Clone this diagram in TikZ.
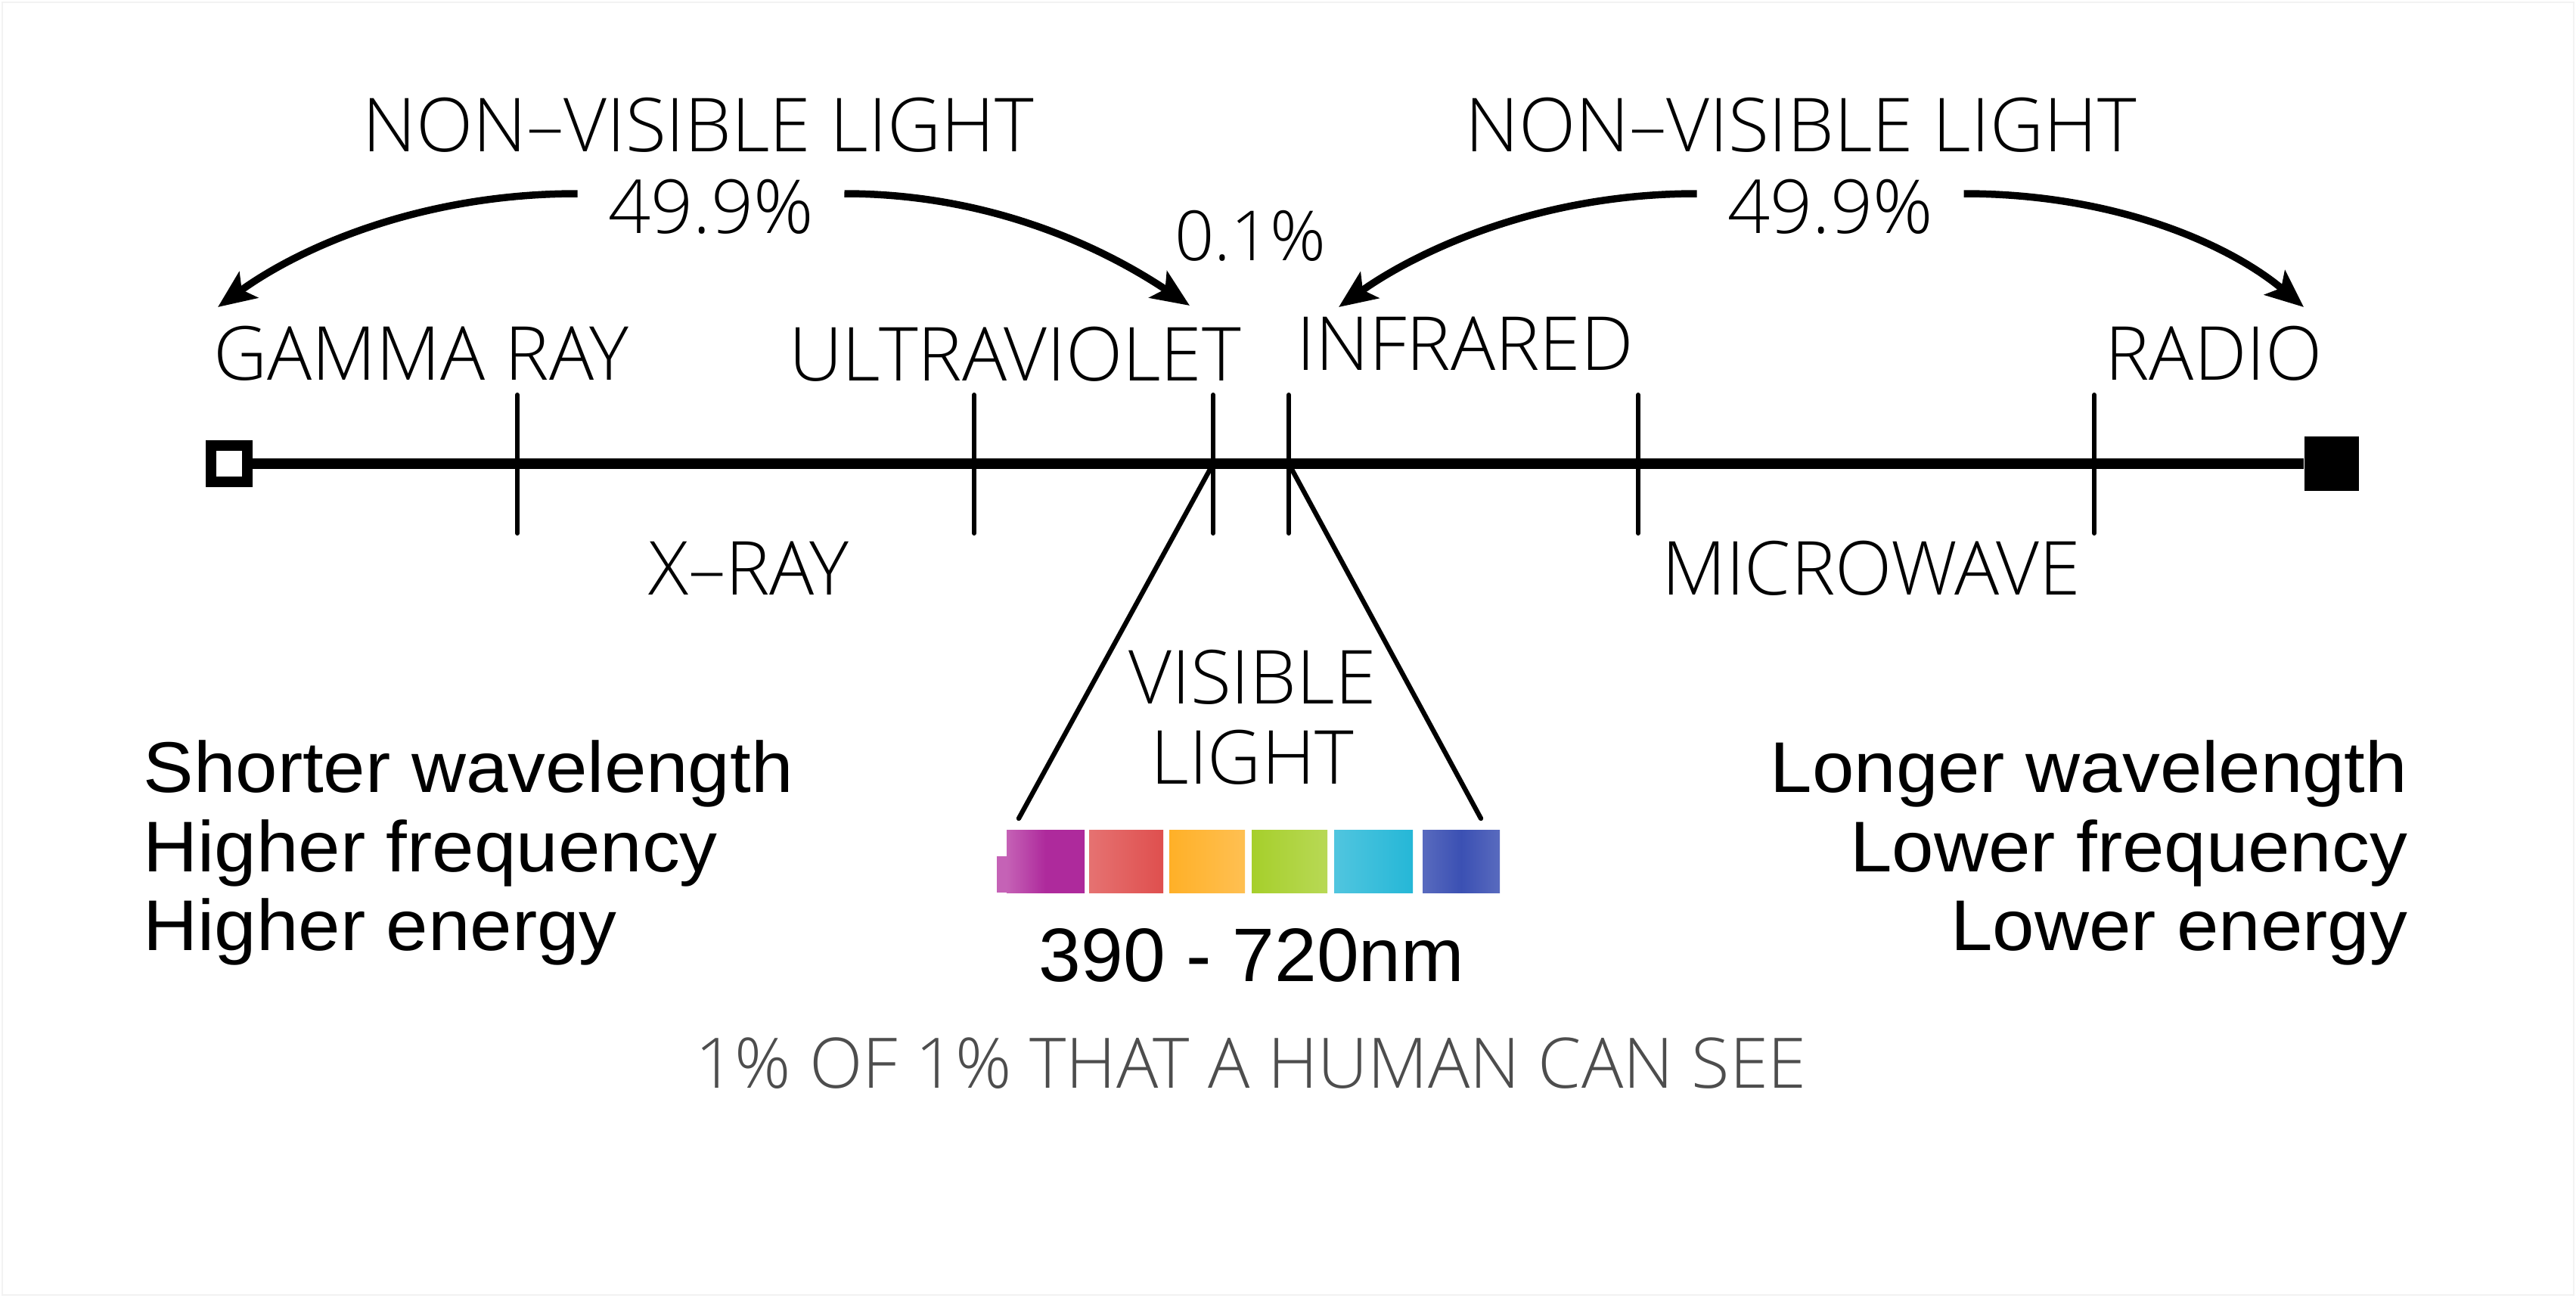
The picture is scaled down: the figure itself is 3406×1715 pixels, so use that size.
\documentclass[tikz,border=0pt]{standalone}
\usepackage{fontspec}
\setmainfont[FakeStretch=1.05]{Liberation Sans}
\newfontfamily\plainfont{Liberation Sans}
\newfontfamily\thinfont{Open Sans Light}
\usetikzlibrary{arrows.meta}
\definecolor{cpurple}{HTML}{AE2A9C}
\definecolor{cpurplel}{HTML}{C562B6}
\definecolor{cred}{HTML}{DF4F4E}
\definecolor{corange}{HTML}{FFB027}
\definecolor{cgreen}{HTML}{A6CF2B}
\definecolor{ccyan}{HTML}{25B7D7}
\definecolor{cblue}{HTML}{3B50B3}
\definecolor{capgray}{HTML}{4D4D4D}
\begin{document}
\begin{tikzpicture}[x=0.01cm,y=-0.01cm,
  thinlbl/.style={font=\thinfont\fontsize{28}{32}\selectfont, inner sep=0pt, anchor=base},
  sidelbl/.style={font=\fontsize{27}{31}\selectfont, inner sep=0pt},
  axisline/.style={line width=4pt},
  tickline/.style={line width=1.7pt, line cap=round},
  coneline/.style={line width=1.8pt, line cap=round},
  arr/.style={line width=2.7pt, -{Stealth[length=0.5cm,width=0.42cm,inset=0.11cm]}}
]
\useasboundingbox (0,0) rectangle (3406,1715);
\fill[white] (0,0) rectangle (3406,1715);
\draw[black!5, line width=0.8pt] (3,3) rectangle (3403,1712);

% end markers
\node[draw, line width=3.98pt, inner sep=0pt, minimum size=0.48cm] (gsq) at (303,613) {};
\node[fill, inner sep=0pt, minimum size=0.72cm] (rsq) at (3083,613) {};
\draw[axisline] (gsq.east) -- (rsq.west);

% ticks
\foreach \x/\n in {684/t1,1288/t2,1604/t3,1704/t4,2166/t5,2769/t6}{
  \coordinate (\n) at (\x,613);
  \draw[tickline] (\x,522) -- (\x,705);
}

% band labels
\node[thinlbl, anchor=base west] (gamma) at (282,502) {GAMMA RAY};
\node[thinlbl] (uv) at (1342,503) {ULTRAVIOLET};
\node[thinlbl] (ir) at (1937,489) {INFRARED};
\node[thinlbl] (radio) at (2927,502) {RADIO};
\node[thinlbl] (xray) at (990,786) {X–RAY};
\node[thinlbl] (micro) at (2474,786) {MICROWAVE};
\node[thinlbl] (vis1) at (1656,930) {VISIBLE};
\node[thinlbl] (vis2) at (1656,1036) {LIGHT};

% top labels
\node[thinlbl] (nvL) at (923,200) {NON–VISIBLE LIGHT};
\node[thinlbl] (nvR) at (2381,200) {NON–VISIBLE LIGHT};
\node[thinlbl, inner xsep=0.4cm] (pctL) at (940,308) {49.9\%};
\node[thinlbl, inner xsep=0.4cm] (pctR) at (2420,308) {49.9\%};
\node[thinlbl, font=\thinfont\fontsize{26}{30}\selectfont] (pctV) at (1653,344) {0.1\%};

% arrow tips
\coordinate (tipG) at (288,406);
\coordinate (tipU) at (1573,404);
\coordinate (tipI) at (1770,406);
\coordinate (tipR) at (3046,406);
\draw[arr] (pctL.west |- 0,256) .. controls (560,256) and (400,325) .. (tipG);
\draw[arr] (pctL.east |- 0,256) .. controls (1320,256) and (1470,335) .. (tipU);
\draw[arr] (pctR.west |- 0,256) .. controls (2030,256) and (1870,335) .. (tipI);
\draw[arr] (pctR.east |- 0,256) .. controls (2800,256) and (2950,325) .. (tipR);

% colour bar
\fill[cpurplel] (1318,1132) rectangle (1340,1180);
\shade[left color=cpurplel, right color=cpurple, middle color=cpurple] (1331,1097) rectangle (1434,1180);
\shade[left color=cred!80!white, right color=cred] (1440,1097) rectangle (1538,1180);
\shade[left color=corange, right color=corange!80!white] (1546,1097) rectangle (1646,1180);
\shade[left color=cgreen, right color=cgreen!80!white] (1655,1097) rectangle (1755,1180);
\shade[left color=ccyan!80!white, right color=ccyan] (1764,1097) rectangle (1868,1180);
\shade[left color=cblue!85!white, right color=cblue!85!white, middle color=cblue] (1881,1097) rectangle (1983,1180);
\coordinate (coneL) at (1347,1082);
\coordinate (coneR) at (1958,1082);
\draw[coneline] (t3) -- (coneL);
\draw[coneline] (t4) -- (coneR);

\node[font=\plainfont\fontsize{28.5}{32}\selectfont, inner sep=0pt, anchor=base] (nm) at (1655,1297) {390 - 720nm};
\node[thinlbl, text=capgray, font=\thinfont\fontsize{26.2}{30}\selectfont] (human) at (1654,1438) {1\% OF 1\% THAT A HUMAN CAN SEE};

% side texts
\node[sidelbl, anchor=base west] (s1) at (189,1047) {Shorter wavelength};
\node[sidelbl, anchor=base west] (s2) at (189,1152) {Higher frequency};
\node[sidelbl, anchor=base west] (s3) at (189,1256) {Higher energy};
\node[sidelbl, anchor=base east] (l1) at (3184,1047) {Longer wavelength};
\node[sidelbl, anchor=base east] (l2) at (3184,1152) {Lower frequency};
\node[sidelbl, anchor=base east] (l3) at (3184,1256) {Lower energy};
\end{tikzpicture}
\end{document}
